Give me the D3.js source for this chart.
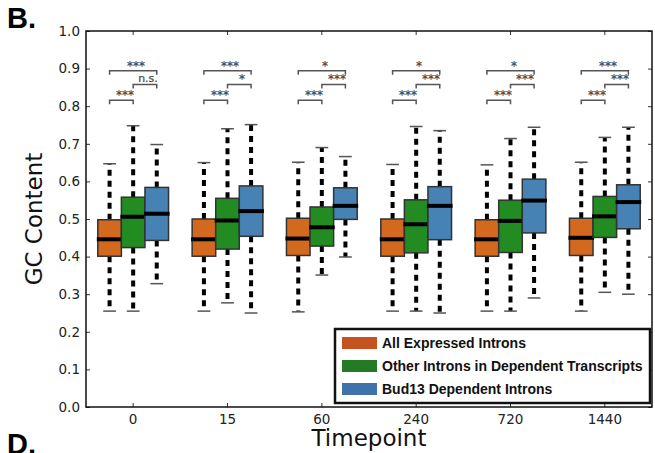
<!DOCTYPE html>
<html>
<head>
<meta charset="utf-8">
<script src="https://cdn.jsdelivr.net/npm/d3@7"></script>
<style>
	body { margin: 0; background: #fff; }
	svg { display: block; }
</style>
</head>
<body>
<div class="graph-box"></div>
<script>
// timepoints on the x axis
var timepoints = ["0", "15", "60", "240", "720", "1440"];
var seriesNames = ["All Expressed Introns", "Other Introns in Dependent Transcripts", "Bud13 Dependent Introns"];
var yTicks = [0.0, 0.1, 0.2, 0.3, 0.4, 0.5, 0.6, 0.7, 0.8, 0.9, 1.0];

// [low whisker, q1, median, q3, high whisker] per timepoint
var allExpressed = [
	[0.255, 0.401, 0.446, 0.498, 0.647],
	[0.255, 0.401, 0.446, 0.500, 0.650],
	[0.253, 0.403, 0.448, 0.502, 0.651],
	[0.255, 0.401, 0.446, 0.500, 0.645],
	[0.255, 0.401, 0.446, 0.498, 0.644],
	[0.255, 0.403, 0.450, 0.502, 0.651]
];
var otherIntrons = [
	[0.255, 0.424, 0.506, 0.558, 0.748],
	[0.277, 0.420, 0.496, 0.555, 0.740],
	[0.351, 0.428, 0.478, 0.532, 0.690],
	[0.255, 0.410, 0.486, 0.551, 0.746],
	[0.255, 0.411, 0.495, 0.550, 0.714],
	[0.305, 0.451, 0.507, 0.560, 0.717]
];
var bud13Dependent = [
	[0.328, 0.443, 0.514, 0.584, 0.698],
	[0.250, 0.454, 0.521, 0.588, 0.751],
	[0.399, 0.499, 0.535, 0.583, 0.666],
	[0.250, 0.445, 0.535, 0.586, 0.735],
	[0.290, 0.463, 0.549, 0.606, 0.744],
	[0.300, 0.474, 0.545, 0.591, 0.744]
];

// significance labels for each comparison
var sigOrangeGreen = ["***", "***", "***", "***", "***", "***"];
var sigGreenBlue = ["n.s.", "*", "***", "***", "***", "***"];
var sigOrangeBlue = ["***", "***", "*", "*", "*", "***"];

var boxColors = ["#d2691e", "#228b22", "#4682b4"];
var legendColors = ["#c6531f", "#257a25", "#3f71aa"];

var width = 655, height = 453;
var plotLeft = 86, plotRight = 652, plotTop = 31, plotBottom = 407;

var svg = d3.select(".graph-box")
		.append("svg")
		.attr("width", width)
		.attr("height", height)
		.style("font-family", "'DejaVu Sans', sans-serif");

var x = d3.scaleBand().domain(timepoints).range([plotLeft, plotRight]);
var y = d3.scaleLinear().domain([0, 1]).range([plotBottom, plotTop]);
var bw = x.bandwidth() * 0.25;

function center(t) {
	return x(t) + x.bandwidth() / 2;
}

// axes, ticks pointing inwards like the old matplotlib style
svg.append("g")
		.attr("transform", "translate(" + plotLeft + ",0)")
		.call(d3.axisLeft(y).tickValues(yTicks).tickFormat(d3.format(".1f")).tickSizeInner(-4).tickSizeOuter(0).tickPadding(6));
svg.append("g")
		.attr("transform", "translate(" + plotRight + ",0)")
		.call(d3.axisRight(y).tickValues(yTicks).tickFormat("").tickSizeInner(-4).tickSizeOuter(0));
svg.append("g")
		.attr("transform", "translate(0," + plotBottom + ")")
		.call(d3.axisBottom(x).tickSizeInner(-4).tickSizeOuter(0).tickPadding(7));
svg.append("g")
		.attr("transform", "translate(0," + plotTop + ")")
		.call(d3.axisTop(x).tickFormat("").tickSizeInner(-4).tickSizeOuter(0));

svg.selectAll(".domain").remove();
svg.selectAll(".tick line").attr("stroke", "#333").attr("stroke-width", 1);
svg.selectAll(".tick text").attr("fill", "#222").style("font-size", "13.5px").style("font-family", "'DejaVu Sans', sans-serif");

// boxes
var allSeries = [allExpressed, otherIntrons, bud13Dependent];
allSeries.forEach(function(series, s) {
	var g = svg.append("g");
	timepoints.forEach(function(t, i) {
		var d = series[i];
		var cx = center(t) + (s - 1) * bw;
		// whiskers
		g.append("line")
			.attr("x1", cx).attr("x2", cx)
			.attr("y1", y(d[3])).attr("y2", y(d[4]))
			.attr("stroke", "#000").attr("stroke-width", 4)
			.attr("stroke-dasharray", "6,5");
		g.append("line")
			.attr("x1", cx).attr("x2", cx)
			.attr("y1", y(d[1])).attr("y2", y(d[0]))
			.attr("stroke", "#000").attr("stroke-width", 4)
			.attr("stroke-dasharray", "6,5");
		// caps
		[d[0], d[4]].forEach(function(v) {
			g.append("line")
				.attr("x1", cx - bw * 0.27).attr("x2", cx + bw * 0.27)
				.attr("y1", y(v)).attr("y2", y(v))
				.attr("stroke", "#555").attr("stroke-width", 1.5);
		});
		g.append("rect")
			.attr("x", cx - bw / 2)
			.attr("y", y(d[3]))
			.attr("width", bw)
			.attr("height", y(d[1]) - y(d[3]))
			.attr("fill", boxColors[s])
			.attr("stroke", "#333")
			.attr("stroke-width", 1.5);
		g.append("line")
			.attr("x1", cx - bw / 2 - 1).attr("x2", cx + bw / 2 + 1)
			.attr("y1", y(d[2])).attr("y2", y(d[2]))
			.attr("stroke", "#000").attr("stroke-width", 4);
	});
});

// significance brackets
function bracket(x1, x2, level, label, shift) {
	var yy = y(level);
	svg.append("path")
		.attr("d", "M" + x1 + "," + (yy + 4) + "V" + yy + "H" + x2 + "V" + (yy + 4))
		.attr("fill", "none")
		.attr("stroke", "#555")
		.attr("stroke-width", 1.5);
	// thin stroke keeps the small asterisks grey instead of colour fringed
	svg.append("text")
		.attr("x", Math.round((x1 + x2) / 2 + shift))
		.attr("y", label == "n.s." ? yy - 2 : yy - 1)
		.attr("text-anchor", "middle")
		.attr("fill", "#444")
		.attr("stroke", "#444")
		.attr("stroke-width", 0.2)
		.style("font-size", label == "n.s." ? "11px" : "12px")
		.text(label);
}
timepoints.forEach(function(t, i) {
	var c = center(t);
	bracket(c - bw, c, 0.816, sigOrangeGreen[i], 4);
	bracket(c, c + bw, 0.858, sigGreenBlue[i], 3);
	bracket(c - bw, c + bw, 0.894, sigOrangeBlue[i], 3);
});

// frame
svg.append("rect")
	.attr("x", plotLeft).attr("y", plotTop)
	.attr("width", plotRight - plotLeft).attr("height", plotBottom - plotTop)
	.attr("fill", "none")
	.attr("stroke", "#111")
	.attr("stroke-width", 1.5);

// legend
var legend = svg.append("g");
legend.append("rect")
	.attr("x", 335).attr("y", 329)
	.attr("width", 315).attr("height", 74)
	.attr("fill", "#fff")
	.attr("stroke", "#111")
	.attr("stroke-width", 2.5);
seriesNames.forEach(function(name, i) {
	var ry = 343 + i * 23;
	legend.append("rect")
		.attr("x", 342).attr("y", ry - 6)
		.attr("width", 35).attr("height", 12)
		.attr("fill", legendColors[i]);
	legend.append("text")
		.attr("x", 382).attr("y", ry)
		.attr("dy", "0.35em")
		.style("font-family", "'Liberation Sans', Arial, sans-serif")
		.style("font-weight", "bold")
		.style("font-size", "14px")
		.attr("fill", "#111")
		.text(name);
});

// axis titles
svg.append("text")
	.attr("x", (plotLeft + plotRight) / 2)
	.attr("y", 446)
	.attr("text-anchor", "middle")
	.style("font-size", "23px")
	.attr("fill", "#111")
	.text("Timepoint");
svg.append("text")
	.attr("transform", "translate(42," + ((plotTop + plotBottom) / 2) + ") rotate(-90)")
	.attr("text-anchor", "middle")
	.style("font-size", "23px")
	.attr("fill", "#111")
	.text("GC Content");

// panel letters
svg.append("text")
	.attr("x", 7).attr("y", 28)
	.style("font-family", "'Liberation Sans', Arial, sans-serif")
	.style("font-weight", "bold")
	.style("font-size", "29px")
	.text("B.");
svg.append("text")
	.attr("x", 7).attr("y", 454)
	.style("font-family", "'Liberation Sans', Arial, sans-serif")
	.style("font-weight", "bold")
	.style("font-size", "29px")
	.text("D.");
</script>
</body>
</html>
